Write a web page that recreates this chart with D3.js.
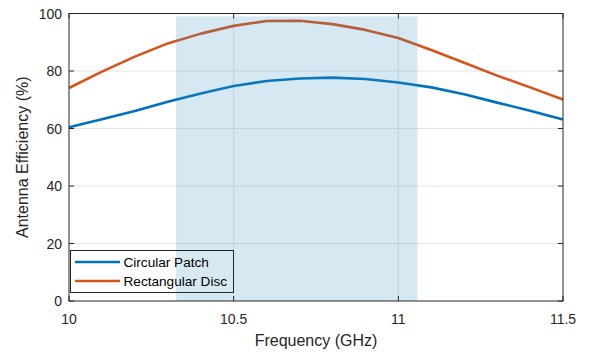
<!DOCTYPE html>
<html>
<head>
<meta charset="utf-8">
<script src="https://cdn.jsdelivr.net/npm/d3@7"></script>
<style>
  html, body { margin: 0; padding: 0; background: #fff; }
  svg { display: block; font-family: "Liberation Sans", Arial, sans-serif; }
</style>
</head>
<body>
<svg id="chart" width="589" height="352"></svg>
<script>
// Frequency sweep (GHz)
const frequency = [10.0, 10.1, 10.2, 10.3, 10.4, 10.5, 10.6, 10.7, 10.8, 10.9, 11.0, 11.1, 11.2, 11.3, 11.4, 11.5];
// Antenna efficiency (%)
const circularPatch = [60.4, 63.2, 66.1, 69.3, 72.2, 74.8, 76.5, 77.4, 77.7, 77.2, 76.0, 74.3, 71.9, 69.0, 66.2, 63.1];
const rectangularDisc = [74.1, 79.8, 85.0, 89.6, 93.0, 95.7, 97.4, 97.5, 96.3, 94.3, 91.5, 87.3, 82.9, 78.4, 74.3, 70.1];
const seriesNames = ["Circular Patch", "Rectangular Disc"];
// Highlighted operating band
const bandFreq = [10.325, 11.058];
const bandTop = 99;
const xTicks = [10, 10.5, 11, 11.5];
const yTicks = [0, 20, 40, 60, 80, 100];

const colors = ["#0072BD", "#D95319"];
const svg = d3.select("#chart");
const m = { left: 69, right: 563, top: 13.5, bottom: 301 };

const x = d3.scaleLinear().domain([10, 11.5]).range([m.left, m.right]);
const y = d3.scaleLinear().domain([0, 100]).range([m.bottom, m.top]);

// grid
const grid = svg.append("g");
grid.selectAll(".gy").data(yTicks.slice(1, -1)).join("line")
  .attr("x1", m.left).attr("x2", m.right)
  .attr("y1", d => y(d)).attr("y2", d => y(d))
  .attr("stroke", "#e4e4e4").attr("stroke-width", 1);
grid.selectAll(".gx").data(xTicks.slice(1, -1)).join("line")
  .attr("y1", m.top).attr("y2", m.bottom)
  .attr("x1", d => x(d)).attr("x2", d => x(d))
  .attr("stroke", "#e4e4e4").attr("stroke-width", 1);

// curves
const line = d3.line().x((d, i) => x(frequency[i])).y(d => y(d));
[circularPatch, rectangularDisc].forEach((s, k) => {
  svg.append("path").datum(s).attr("d", line)
    .attr("fill", "none").attr("stroke", colors[k])
    .attr("stroke-width", 2.6).attr("stroke-linejoin", "round");
});

// translucent band overlay
svg.append("rect")
  .attr("x", x(bandFreq[0])).attr("width", x(bandFreq[1]) - x(bandFreq[0]))
  .attr("y", y(bandTop)).attr("height", y(0) - y(bandTop))
  .attr("fill", "rgb(50,145,190)").attr("fill-opacity", 0.2);

// axes (box with inward ticks)
const axisColor = "#262626";
const axG = svg.append("g");
axG.append("rect").attr("x", m.left).attr("y", m.top)
  .attr("width", m.right - m.left).attr("height", m.bottom - m.top)
  .attr("fill", "none").attr("stroke", axisColor).attr("stroke-width", 1);
const tl = 5;
xTicks.forEach(t => {
  axG.append("line").attr("x1", x(t)).attr("x2", x(t)).attr("y1", m.bottom).attr("y2", m.bottom - tl).attr("stroke", axisColor);
  axG.append("line").attr("x1", x(t)).attr("x2", x(t)).attr("y1", m.top).attr("y2", m.top + tl).attr("stroke", axisColor);
  axG.append("text").attr("x", x(t)).attr("y", 324).attr("text-anchor", "middle")
    .attr("font-size", 14).attr("fill", axisColor).text(t);
});
yTicks.forEach(t => {
  axG.append("line").attr("y1", y(t)).attr("y2", y(t)).attr("x1", m.left).attr("x2", m.left + tl).attr("stroke", axisColor);
  axG.append("line").attr("y1", y(t)).attr("y2", y(t)).attr("x1", m.right).attr("x2", m.right - tl).attr("stroke", axisColor);
  axG.append("text").attr("x", 62).attr("y", y(t) + 5).attr("text-anchor", "end")
    .attr("font-size", 14).attr("fill", axisColor).text(t);
});

svg.append("text").attr("x", (m.left + m.right) / 2).attr("y", 346)
  .attr("text-anchor", "middle").attr("font-size", 16).attr("fill", axisColor)
  .text("Frequency (GHz)");
svg.append("text").attr("transform", `translate(28,${(m.top + m.bottom) / 2}) rotate(-90)`)
  .attr("text-anchor", "middle").attr("font-size", 16).attr("fill", axisColor)
  .text("Antenna Efficiency (%)");

// legend
const lg = svg.append("g");
lg.append("rect").attr("x", 70.5).attr("y", 250.5).attr("width", 163).attr("height", 42)
  .attr("fill", "none").attr("stroke", axisColor).attr("stroke-width", 1);
seriesNames.forEach((n, k) => {
  const yy = 262 + k * 19;
  lg.append("line").attr("x1", 75).attr("x2", 120).attr("y1", yy).attr("y2", yy)
    .attr("stroke", colors[k]).attr("stroke-width", 2.6);
  lg.append("text").attr("x", 123.5).attr("y", yy + 5).attr("font-size", 13.6)
    .attr("fill", "#000").text(n);
});
</script>
</body>
</html>
